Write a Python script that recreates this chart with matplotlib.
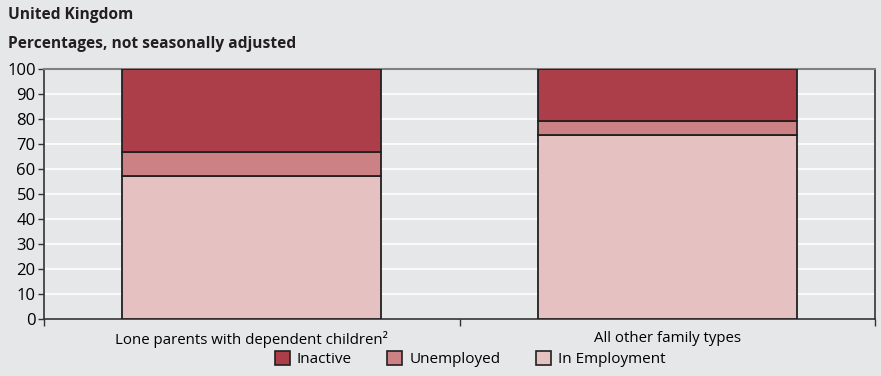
import matplotlib

matplotlib.use("Agg")
import matplotlib.pyplot as plt
from matplotlib.patches import Patch

plt.rcParams["font.family"] = ["Open Sans", "DejaVu Sans"]

categories = ["Lone parents with dependent children\u00b2", "All other family types"]
employment = [57.3, 73.6]
unemployed = [9.4, 5.7]
inactive = [33.3, 20.7]
yticks = list(range(0, 101, 10))

bg = "#e6e7e8"
c_inactive = "#ac3e4a"
c_unemp = "#cc8284"
c_emp = "#e5c1c1"
edge = "#231f20"

fig = plt.figure(figsize=(8.81, 3.76), dpi=100, facecolor=bg)
ax = fig.add_axes([44 / 881, 1 - 319 / 376, 831 / 881, 250 / 376], facecolor=bg)

x = [0.5, 1.5]
w = 0.624
bottom2 = [e + u for e, u in zip(employment, unemployed)]
ax.bar(x, employment, w, color=c_emp, edgecolor=edge, linewidth=1.3, zorder=3)
ax.bar(x, unemployed, w, bottom=employment, color=c_unemp, edgecolor=edge, linewidth=1.3, zorder=3)
ax.bar(x, inactive, w, bottom=bottom2, color=c_inactive, edgecolor=edge, linewidth=1.3, zorder=3)

ax.set_xlim(0, 2)
ax.set_ylim(0, 100)
ax.set_yticks(yticks)
ax.yaxis.grid(True, color="white", linewidth=1.2, zorder=0)
ax.tick_params(axis="y", length=4, width=1, color="#333333", labelsize=12, pad=2)

# category separators as major ticks, names as minor tick labels
ax.set_xticks([0, 1, 2])
ax.set_xticklabels([])
ax.set_xticks(x, minor=True)
ax.set_xticklabels(categories, minor=True)
ax.tick_params(axis="x", which="major", length=5, width=1, color="#333333")
ax.tick_params(axis="x", which="minor", length=0, labelsize=10.8, pad=9)

for s in ["left", "right", "bottom"]:
    ax.spines[s].set_color("#333333")
    ax.spines[s].set_linewidth(1.2)
ax.spines["top"].set_color("#808080")
ax.spines["top"].set_linewidth(1.5)

fig.text(8 / 881, 1 - 15 / 376, "United Kingdom", fontsize=11.2, fontweight="bold",
         color="#231f20", va="center", ha="left")
fig.text(8 / 881, 1 - 44 / 376, "Percentages, not seasonally adjusted", fontsize=11.2,
         fontweight="bold", color="#231f20", va="center", ha="left")

handles = [Patch(facecolor=c, edgecolor=edge, linewidth=1.2) for c in (c_inactive, c_unemp, c_emp)]
fig.legend(handles, ["Inactive", "Unemployed", "In Employment"], loc="center",
           bbox_to_anchor=(470 / 881, 1 - 359 / 376), ncol=3, frameon=False, fontsize=11,
           handlelength=1.0, handleheight=1.0, handletextpad=0.45, columnspacing=2.3)

fig.savefig("out.png", dpi=100, facecolor=bg)
